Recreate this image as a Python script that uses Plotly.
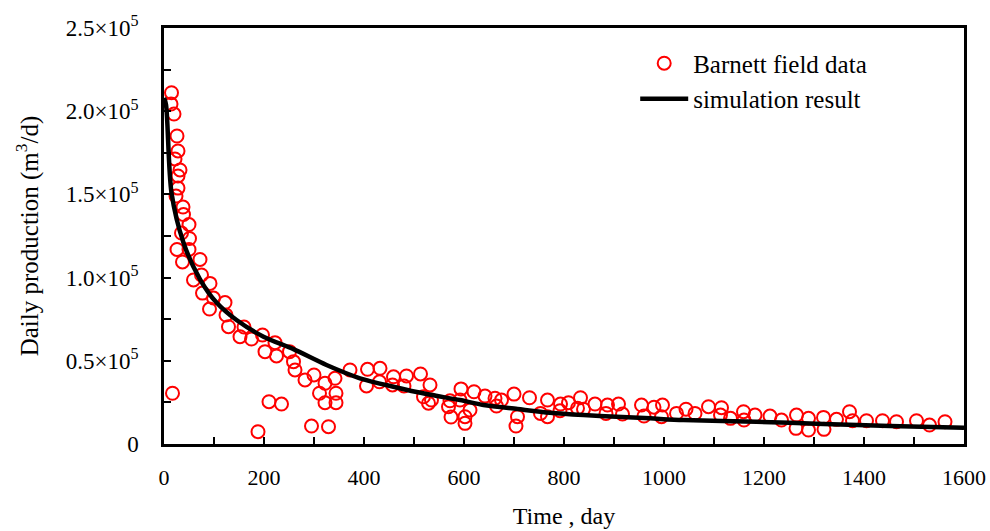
import plotly.graph_objects as go

# Barnett field data (time in days, daily production in thousand m3/d)
field_t = [15, 14, 20, 26, 28, 22, 32, 28, 28, 24, 38, 39, 50, 35, 51, 26, 50, 37, 72, 75,
           59, 92, 77, 99, 91, 122, 124, 129, 152, 160, 175, 197, 222, 202, 225, 17, 210, 235, 188,
           251, 259, 262, 282, 300, 322, 311, 322, 342, 344, 344, 295, 329, 372, 407, 405,
           432, 431, 459, 457, 485, 480, 513, 532, 519, 529, 535,
           572, 569, 574, 594, 592, 602, 612, 602,
           620, 642, 662, 675, 665, 700, 707, 704, 731, 767, 753, 767, 793, 792, 809, 833,
           827, 839, 862, 887, 909, 884, 917, 955, 960, 980, 997, 995, 1025, 1044, 1062,
           1089, 1115, 1113, 1133, 1159, 1160, 1182, 1212, 1235, 1265, 1264, 1289, 1289,
           1319, 1320, 1345, 1371, 1377, 1405, 1437, 1465, 1505, 1531, 1562]
field_q = [211.1, 204.3, 198.3, 185.1, 176.1, 171.3, 164.7, 161.1, 153.8, 149.0, 142.4, 137.9,
           131.9, 126.8, 123.5, 116.9, 116.9, 109.4, 110.9, 101.6,
           98.6, 96.5, 90.7, 87.7, 81.1, 85.0, 77.5, 70.5, 64.5, 70.3, 63.1, 65.5, 60.9, 55.5, 52.9,
           30.5, 25.4, 24.0, 7.4,
           55.5, 49.5, 44.5, 38.5, 41.5, 36.5, 30.5, 24.8, 39.5, 30.5, 24.8, 10.8, 10.4, 44.5, 44.9,
           34.9, 45.5, 37.4, 40.4, 35.5, 40.9, 34.9, 42.1, 35.5, 28.4, 24.5, 26.4,
           26.0, 22.4, 16.2, 33.1, 26.4, 16.4, 20.4, 12.4,
           31.4, 28.8, 27.5, 26.4, 22.8, 30.0, 16.4, 10.8, 27.8, 26.4, 18.4, 16.4, 24.0, 20.0,
           24.8, 27.8, 21.5, 20.9, 24.0, 23.4, 24.0, 18.4, 18.0, 23.4, 16.8, 22.1, 23.4, 16.4,
           18.4, 20.9, 18.4,
           22.4, 21.8, 17.4, 15.4, 19.4, 14.4, 17.4, 16.8, 14.4, 17.4, 9.4, 15.4, 8.4,
           16.0, 8.8, 14.8, 19.4, 14.0, 14.0, 14.0, 13.4, 14.0, 11.4, 13.4]

# Simulation result curve
sim_t = [0, 4, 15, 39, 72, 105, 145, 199, 259, 325, 392, 459, 525, 592, 639, 707, 772,
         839, 905, 972, 1039, 1185, 1319, 1452, 1600]
sim_q = [208, 204, 151, 121, 99, 85, 74.5, 64.5, 57, 47.5, 39.5, 34.4, 30, 26.4, 23.4, 21,
         18.8, 17.4, 16.4, 15.4, 14.4, 13.4, 12, 10.8, 9.8]

x_ticks = [0, 200, 400, 600, 800, 1000, 1200, 1400, 1600]
y_tickvals = [0, 50000, 100000, 150000, 200000, 250000]
y_ticktext = ["0", "0.5×10<sup>5</sup>", "1.0×10<sup>5</sup>", "1.5×10<sup>5</sup>",
              "2.0×10<sup>5</sup>", "2.5×10<sup>5</sup>"]

FONT = "Liberation Serif"

fig = go.Figure()
fig.add_trace(go.Scatter(
    x=field_t, y=[v * 1000 for v in field_q], mode="markers",
    name="Barnett field data", legendgroup="a",
    marker=dict(symbol="circle-open", size=13, color="#ff0000", line=dict(width=2, color="#ff0000")),
))
fig.add_trace(go.Scatter(
    x=sim_t, y=[v * 1000 for v in sim_q], mode="lines",
    name="simulation result", legendgroup="b",
    line=dict(color="black", width=4.5, shape="spline", smoothing=0.8),
))

fig.update_layout(
    width=990, height=531,
    margin=dict(l=164, r=26, t=28, b=87),
    paper_bgcolor="white", plot_bgcolor="white",
    font=dict(family=FONT, size=22, color="black"),
    showlegend=True,
    legend=dict(x=0.589, y=0.97, xanchor="left", yanchor="top",
                bgcolor="rgba(0,0,0,0)", font=dict(family=FONT, size=25),
                traceorder="grouped", tracegroupgap=0, itemwidth=48),
)
fig.update_xaxes(
    range=[0, 1600], tickvals=x_ticks, ticktext=[str(v) for v in x_ticks],
    ticks="inside", ticklen=7, tickwidth=1.5, tickcolor="black",
    minor=dict(dtick=100, tick0=0, ticks="inside", ticklen=7, tickwidth=1.5, tickcolor="black"),
    showline=True, linecolor="black", linewidth=2.5, mirror=True,
    showgrid=False, zeroline=False, automargin=False,
    ticklabelstandoff=12, tickfont=dict(size=22),
    title=dict(text="Time , day", font=dict(family=FONT, size=24), standoff=19),
)
fig.update_yaxes(
    range=[0, 250000], tickvals=y_tickvals, ticktext=y_ticktext,
    ticks="inside", ticklen=7, tickwidth=1.5, tickcolor="black",
    minor=dict(dtick=25000, tick0=0, ticks="inside", ticklen=7, tickwidth=1.5, tickcolor="black"),
    showline=True, linecolor="black", linewidth=2.5, mirror=True,
    showgrid=False, zeroline=False, automargin=False,
    ticklabelstandoff=18, tickfont=dict(size=23),
    title=dict(text="Daily production (m<sup>3</sup>/d)", font=dict(family=FONT, size=25), standoff=21),
)

# remove the browser's default page margin so the figure fills the window exactly
fig.write_html("out.html", config={"displayModeBar": False},
               post_script="document.body.style.margin='0';document.body.style.overflow='hidden';")
